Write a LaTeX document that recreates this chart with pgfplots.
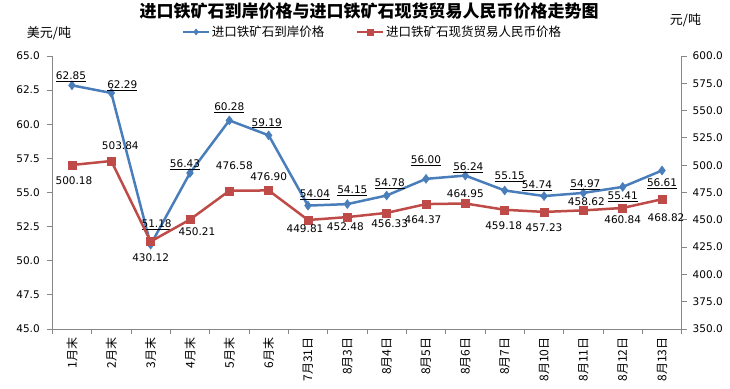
\documentclass[border=0pt]{standalone}
\usepackage{pgfplots}
\pgfplotsset{compat=1.18}
\usepackage{pgfplotstable}
\usepackage{fontspec}
\setmainfont{DejaVu Sans}
\newfontfamily\cjk{Noto Sans CJK SC}
\definecolor{bl}{HTML}{4A7EBB}
\definecolor{rd}{HTML}{BE4B48}
\definecolor{axc}{HTML}{868686}

\pgfplotstableread{
x y lbl dx dy
0 62.85 62.85 -1 9
1 62.29 62.29 11 7
2 51.18 51.18 6 20
3 56.43 56.43 -5 8
4 60.28 60.28 0 13
5 59.19 59.19 -2 12
6 54.04 54.04 7 11
7 54.15 54.15 5 13
8 54.78 54.78 3 12
9 56.00 56.00 0 18
10 56.24 56.24 3 8
11 55.15 55.15 5 14
12 54.74 54.74 -7 10
13 54.97 54.97 2 8
14 55.41 55.41 0 -10
15 56.61 56.61 0 -13
}\bluedata

\pgfplotstableread{
x y lbl dx dy
0 500.18 500.18 2 -16
1 503.84 503.84 9 15
2 430.12 430.12 0 -16
3 450.21 450.21 7 -12
4 476.58 476.58 5 25
5 476.90 476.90 0 14
6 449.81 449.81 -3 -9
7 452.48 452.48 -2 -10
8 456.33 456.33 3 -11
9 464.37 464.37 -3 -16
10 464.95 464.95 0 10
11 459.18 459.18 -1 -16
12 457.23 457.23 0 -16
13 458.62 458.62 3 9
14 460.84 460.84 0 -12
15 468.82 468.82 4 -18
}\reddata

\pgfplotsset{
  common/.style={
    at={(52.3pt,59pt)}, anchor=south west, scale only axis,
    width=629.4pt, height=273pt,
    xmin=-0.5, xmax=15.5, clip=false,
    axis line style={axc, line width=0.8pt},
    tick style={axc, line width=0.8pt},
    tick align=outside, major tick length=5pt, minor tick length=5pt,
    ticklabel style={font=\fontsize{10.5}{12}\selectfont, text=black},
    yticklabel style={/pgf/number format/fixed, /pgf/number format/fixed zerofill, /pgf/number format/precision=1, /pgf/number format/assume math mode=true},
  },
  lbl/.style={
    nodes near coords={#1},
    point meta=explicit symbolic,
    visualization depends on={\thisrow{dx}\as\dx},
    visualization depends on={\thisrow{dy}\as\dy},
    every node near coord/.append style={font=\fontsize{10.5}{12}\selectfont, text=black, anchor=center, xshift=\dx pt, yshift=\dy pt, inner sep=0pt},
  },
}

\begin{document}
\begin{tikzpicture}
\useasboundingbox (0,0) rectangle (730pt,388pt);

\begin{axis}[common,
  ymin=45, ymax=65,
  ytick={45,47.5,50,52.5,55,57.5,60,62.5,65},
  yticklabel style={xshift=-4pt},
  axis y line*=left, axis x line*=bottom,
  xtick={0,...,15},
  major x tick style={draw=none},
  minor xtick={-0.5,0.5,...,15.5},
  xticklabels={1月末,2月末,3月末,4月末,5月末,6月末,7月31日,8月3日,8月4日,8月5日,8月6日,8月7日,8月10日,8月11日,8月12日,8月13日},
  xticklabel style={rotate=90, anchor=east, font=\cjk\fontsize{12}{14}\selectfont},
  legend style={at={(0.509,1.088)}, anchor=center, draw=none, fill=none,
    legend columns=2, font=\cjk\fontsize{12.5}{14}\selectfont,
    /tikz/every even column/.append style={column sep=30pt}},
  legend image code/.code={
    \draw[mark repeat=2,mark phase=2,#1, line width=2pt, mark size=3pt] plot coordinates {(0cm,0cm) (0.45cm,0cm) (0.9cm,0cm)};
  },
]
\addplot[bl, line width=2.5pt, mark=diamond*, mark size=4.5pt, mark options={solid, line width=0.5pt},
  lbl={\underline{\pgfplotspointmeta}}]
  table[x=x, y=y, meta=lbl] {\bluedata};
\addlegendentry{进口铁矿石到岸价格}
\addlegendimage{rd, line width=2.5pt, mark=square*, mark size=4pt, mark options={solid, line width=0.5pt}}
\addlegendentry{进口铁矿石现货贸易人民币价格}
\end{axis}

\begin{axis}[common,
  ymin=350, ymax=600,
  ytick={350,375,...,600},
  yticklabel style={xshift=2.5pt},
  axis y line*=right, axis x line=none,
]
\addplot[rd, line width=2.5pt, mark=square*, mark size=4pt, mark options={solid, line width=0.5pt},
  lbl={\pgfplotspointmeta}]
  table[x=x, y=y, meta=lbl] {\reddata};
\end{axis}

\node[font=\cjk\bfseries\fontsize{17}{19}\selectfont] at (369pt,377pt) {进口铁矿石到岸价格与进口铁矿石现货贸易人民币价格走势图};
\node[font=\cjk\fontsize{13}{15}\selectfont] at (49pt,354.7pt) {美元/吨};
\node[font=\cjk\fontsize{13}{15}\selectfont] at (685.5pt,368pt) {元/吨};
\end{tikzpicture}
\end{document}
